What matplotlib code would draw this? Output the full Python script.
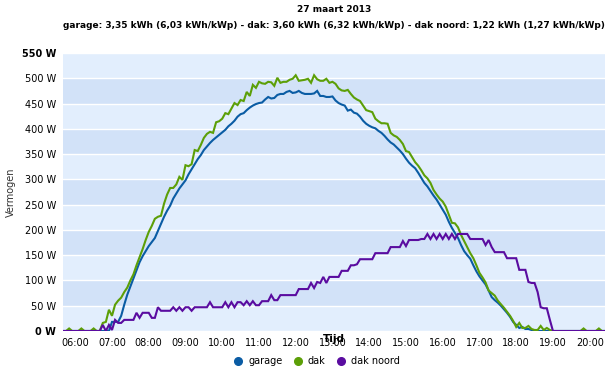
import numpy as np
import pandas as pd
import matplotlib
matplotlib.use("Agg")
import matplotlib.pyplot as plt
import matplotlib.dates as mdates
from matplotlib.lines import Line2D

# 5-minute samples, 05:40 .. 20:25
times = pd.date_range("2013-03-27 05:40", "2013-03-27 20:25", freq="5min")

garage = (
    [0, 0, 0, 0]
    + [0] * 12                                                        # 06
    + [18, 18, 18, 30, 52, 72, 88, 104, 120, 136, 148, 158]           # 07
    + [168, 176, 184, 198, 212, 226, 238, 248, 262, 272, 282, 290]    # 08
    + [298, 310, 320, 330, 340, 348, 358, 365, 372, 378, 383, 388]    # 09
    + [393, 398, 405, 410, 416, 424, 429, 431, 437, 442, 446, 449]    # 10
    + [451, 452, 458, 463, 460, 461, 467, 469, 469, 473, 475, 471]    # 11
    + [472, 475, 471, 469, 469, 469, 470, 475, 465, 465, 463, 463]    # 12
    + [464, 456, 451, 448, 446, 436, 438, 432, 430, 424, 416, 410]    # 13
    + [406, 403, 401, 396, 392, 386, 379, 373, 369, 363, 357, 350]    # 14
    + [341, 333, 327, 322, 313, 303, 293, 286, 277, 268, 260, 250]    # 15
    + [240, 230, 216, 204, 194, 184, 170, 158, 150, 143, 130, 118]    # 16
    + [108, 100, 92, 80, 67, 61, 56, 50, 43, 36, 28, 18]              # 17
    + [12, 6, 8, 4, 4, 2, 0, 0, 0, 0, 0, 0]                           # 18
    + [0] * 12                                                        # 19
    + [0] * 6                                                         # 20
)

dak = (
    [0, 0, 5, 0]
    + [0, 0, 5, 0, 0, 0, 5, 0, 0, 16, 18, 42]                         # 06
    + [30, 52, 60, 66, 77, 86, 100, 112, 130, 146, 162, 180]          # 07
    + [196, 208, 222, 226, 228, 252, 270, 283, 283, 290, 305, 299]    # 08
    + [328, 326, 330, 358, 356, 368, 382, 390, 394, 392, 413, 415]    # 09
    + [420, 431, 429, 440, 451, 447, 457, 455, 473, 465, 487, 481]    # 10
    + [493, 490, 489, 493, 492, 485, 501, 491, 493, 493, 497, 499]    # 11
    + [506, 495, 496, 497, 499, 491, 506, 498, 495, 495, 499, 491]    # 12
    + [493, 489, 480, 476, 475, 477, 469, 462, 458, 455, 446, 437]    # 13
    + [435, 433, 420, 415, 411, 411, 410, 392, 387, 384, 378, 370]    # 14
    + [356, 354, 344, 334, 327, 318, 308, 302, 293, 279, 270, 262]    # 15
    + [256, 246, 230, 214, 213, 205, 190, 178, 166, 154, 144, 130]    # 16
    + [115, 106, 96, 80, 75, 70, 60, 53, 46, 38, 30, 20]              # 17
    + [8, 16, 6, 6, 10, 4, 2, 2, 10, 2, 6, 2]                         # 18
    + [0, 0, 0, 0, 0, 0, 0, 0, 0, 0, 5, 0]                            # 19
    + [0, 0, 0, 5, 0, 0]                                              # 20
)

dak_noord = (
    [0, 0, 0, 0]
    + [0, 0, 0, 0, 0, 0, 0, 0, 0, 12, 0, 12]                          # 06
    + [2, 22, 16, 16, 22, 22, 22, 22, 36, 26, 36, 36]                 # 07
    + [36, 26, 26, 47, 40, 40, 40, 40, 47, 40, 47, 40]                # 08
    + [47, 47, 40, 47, 47, 47, 47, 47, 57, 47, 47, 47]                # 09
    + [47, 57, 47, 57, 47, 57, 57, 51, 59, 51, 59, 51]                # 10
    + [51, 59, 59, 59, 71, 61, 61, 71, 71, 71, 71, 71]                # 11
    + [71, 83, 83, 83, 83, 95, 85, 97, 95, 107, 95, 107]              # 12
    + [107, 107, 107, 119, 119, 119, 130, 130, 132, 142, 142, 142]    # 13
    + [142, 142, 154, 154, 154, 154, 154, 166, 166, 166, 166, 178]    # 14
    + [168, 180, 180, 180, 180, 182, 182, 192, 182, 192, 182, 192]    # 15
    + [182, 192, 182, 192, 182, 192, 192, 192, 192, 182, 182, 182]    # 16
    + [182, 182, 170, 180, 166, 156, 156, 156, 156, 144, 144, 144]    # 17
    + [144, 121, 121, 121, 97, 95, 95, 77, 47, 45, 45, 22]            # 18
    + [0] * 12                                                        # 19
    + [0] * 6                                                         # 20
)

series_names = ["garage", "dak", "dak noord"]
series_colors = ["#0a5ca4", "#5c9f07", "#5a0ca0"]
yticks = list(range(0, 551, 50))

title = "27 maart 2013"
subtitle = ("garage: 3,35 kWh (6,03 kWh/kWp) - dak: 3,60 kWh (6,32 kWh/kWp)"
            " - dak noord: 1,22 kWh (1,27 kWh/kWp)")

plt.rcParams["font.family"] = ["DejaVu Sans"]

fig = plt.figure(figsize=(6.12, 3.71), dpi=100)
ax = fig.add_axes([63 / 612, 40 / 371, 542 / 612, 278 / 371])

# background bands
ax.set_facecolor("#e2eefd")
for lo in range(50, 550, 100):
    ax.axhspan(lo, lo + 50, color="#d2e2f8", zorder=0, lw=0)
for y in yticks:
    ax.axhline(y, color="white", lw=1.0, zorder=1)

for vals, name, col in zip([garage, dak, dak_noord], series_names, series_colors):
    ax.plot(times, vals, color=col, lw=1.5, label=name, zorder=3,
            solid_joinstyle="miter")

ax.set_xlim(times[0], times[-1])
ax.set_ylim(0, 550)
ax.set_yticks(yticks)
ylabels = ax.set_yticklabels([f"{v} W" for v in yticks], fontsize=7)
ylabels[0].set_fontweight("bold")
ylabels[-1].set_fontweight("bold")

ax.xaxis.set_major_locator(mdates.HourLocator(byhour=range(6, 21)))
ax.xaxis.set_major_formatter(mdates.DateFormatter("%H:%M"))
ax.tick_params(axis="x", labelsize=7, length=0, pad=5)
ax.tick_params(axis="y", length=0, pad=5)
for s in ax.spines.values():
    s.set_visible(False)

ax.set_ylabel("Vermogen", fontsize=7, color="#333333")
ax.yaxis.set_label_coords(-47 / 542, 0.5)
ax.set_xlabel("Tijd", fontsize=7.5, fontweight="bold", labelpad=-10)

fig.text(334 / 612, 1 - 9 / 371, title, ha="center", va="center",
         fontsize=6.5, fontweight="bold")
fig.text(334 / 612, 1 - 26 / 371, subtitle, ha="center", va="center",
         fontsize=6.5, fontweight="bold")

handles = [Line2D([], [], marker="o", ls="none", color=c, markersize=5.5)
           for c in series_colors]
fig.legend(handles, series_names, loc="center", bbox_to_anchor=(314 / 612, 10 / 371),
           ncol=3, frameon=False, fontsize=7, handletextpad=0.0,
           columnspacing=0.6, borderaxespad=0)

fig.savefig("out.png", dpi=100)
